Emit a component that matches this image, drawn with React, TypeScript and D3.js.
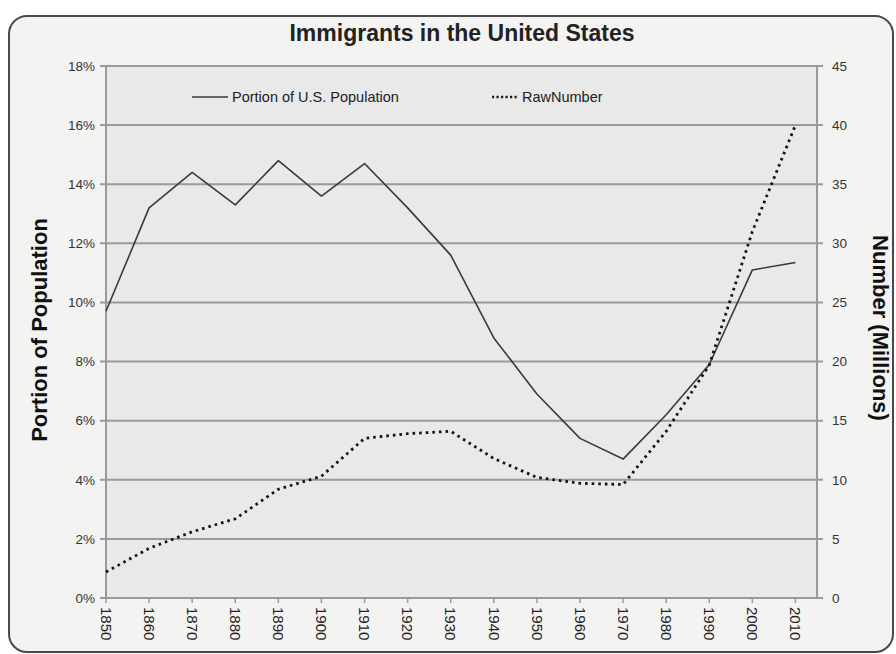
import React, { useEffect } from "react";
import * as d3 from "d3";

const years = [1850, 1860, 1870, 1880, 1890, 1900, 1910, 1920, 1930, 1940, 1950, 1960, 1970, 1980, 1990, 2000, 2010];
const portionPct = [9.7, 13.2, 14.4, 13.3, 14.8, 13.6, 14.7, 13.2, 11.6, 8.8, 6.9, 5.4, 4.7, 6.2, 7.9, 11.1, 11.35];
const rawMillions = [2.2, 4.2, 5.6, 6.7, 9.2, 10.3, 13.5, 13.9, 14.1, 11.8, 10.2, 9.7, 9.6, 14.1, 19.7, 31.0, 40.0];
const leftTicks = [0, 2, 4, 6, 8, 10, 12, 14, 16, 18];
const rightTicks = [0, 5, 10, 15, 20, 25, 30, 35, 40, 45];

const W = 896;
const H = 654;
const PL = 106;
const PR = 817;
const PT = 66;
const PB = 598;
const FONT = "'Liberation Sans', Arial, sans-serif";

export default function App() {
  useEffect(() => {
    document.body.style.margin = "0";
  }, []);

  const x = d3.scaleLinear().domain([1850, 2015]).range([PL, PR]);
  const yL = d3.scaleLinear().domain([0, 18]).range([PB, PT]);
  const yR = d3.scaleLinear().domain([0, 45]).range([PB, PT]);

  const lineL = d3
    .line<number>()
    .x((_, i) => x(years[i]))
    .y((d) => yL(d));
  const lineR = d3
    .line<number>()
    .x((_, i) => x(years[i]))
    .y((d) => yR(d));

  return (
    <svg width={W} height={H} style={{ display: "block" }} fontFamily={FONT}>
      <rect x={0} y={0} width={W} height={H} fill="#ffffff" />
      <rect x={9} y={16} width={884} height={636} rx={18} fill="#f3f3f2" stroke="#4a4a4a" strokeWidth={2} />
      <rect x={PL} y={PT} width={PR - PL} height={PB - PT} fill="#e9e9e9" />
      {leftTicks.map((t) => (
        <line key={"g" + t} x1={PL - 6} x2={PR + 6} y1={yL(t)} y2={yL(t)} stroke="#9a9a9a" strokeWidth={2} />
      ))}
      <line x1={PL} x2={PL} y1={PT} y2={PB} stroke="#9a9a9a" strokeWidth={2} />
      <line x1={PR} x2={PR} y1={PT} y2={PB} stroke="#9a9a9a" strokeWidth={2} />
      {years.map((yr) => (
        <line key={"xt" + yr} x1={x(yr)} x2={x(yr)} y1={PB} y2={PB + 5} stroke="#9a9a9a" strokeWidth={1.5} />
      ))}
      {leftTicks.map((t) => (
        <text key={"lt" + t} x={PL - 11} y={yL(t)} dy="0.35em" textAnchor="end" fontSize={13.5} fill="#333">
          {t + "%"}
        </text>
      ))}
      {rightTicks.map((t) => (
        <text key={"rt" + t} x={PR + 15} y={yR(t)} dy="0.35em" textAnchor="start" fontSize={13.5} fill="#333">
          {t}
        </text>
      ))}
      {years.map((yr) => (
        <text
          key={"xl" + yr}
          transform={`translate(${x(yr)},${PB + 9}) rotate(90)`}
          dy="0.35em"
          textAnchor="start"
          fontSize={15}
          fill="#222"
        >
          {yr}
        </text>
      ))}
      <path d={lineL(portionPct) || ""} fill="none" stroke="#3a3a3a" strokeWidth={1.6} strokeLinejoin="round" />
      <path
        d={lineR(rawMillions) || ""}
        fill="none"
        stroke="#141414"
        strokeWidth={2.8}
        strokeDasharray="2.6 4"
        strokeLinecap="butt"
      />
      <line x1={192} x2={228} y1={97} y2={97} stroke="#3a3a3a" strokeWidth={1.6} />
      <text x={232} y={97} dy="0.35em" fontSize={14.5} fill="#222">
        Portion of U.S. Population
      </text>
      <line x1={492} x2={518} y1={97} y2={97} stroke="#1a1a1a" strokeWidth={2.4} strokeDasharray="2.2 2.3" />
      <text x={522} y={97} dy="0.35em" fontSize={14.5} fill="#222">
        RawNumber
      </text>
      <text x={462} y={33} dy="0.35em" textAnchor="middle" fontSize={23} fontWeight="bold" fill="#222">
        Immigrants in the United States
      </text>
      <text
        transform={`translate(39,330) rotate(-90)`}
        dy="0.35em"
        textAnchor="middle"
        fontSize={22}
        fontWeight="bold"
        fill="#111"
      >
        Portion of Population
      </text>
      <text
        transform={`translate(881,328) rotate(90)`}
        dy="0.35em"
        textAnchor="middle"
        fontSize={22}
        fontWeight="bold"
        fill="#111"
      >
        Number (Millions)
      </text>
    </svg>
  );
}
